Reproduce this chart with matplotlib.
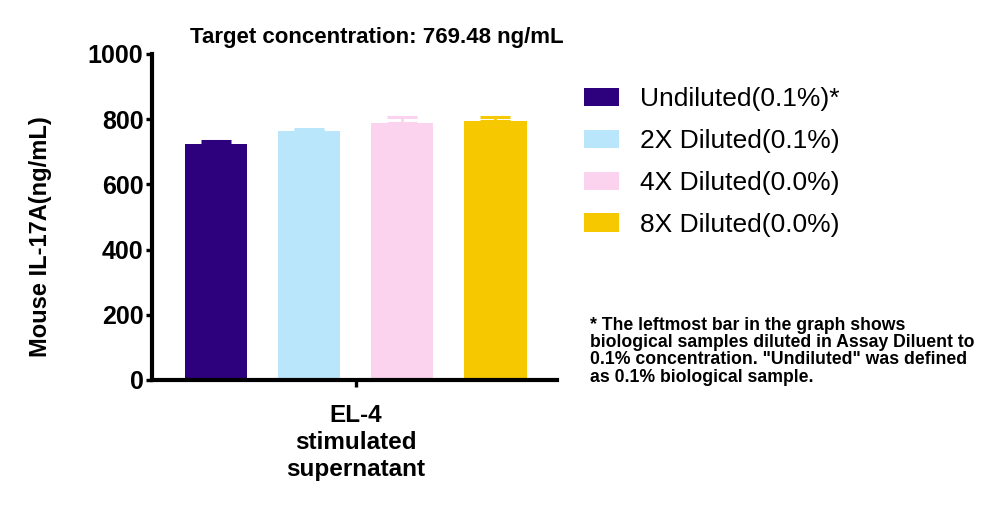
import numpy as np
import matplotlib.pyplot as plt
from matplotlib.patches import Patch

plt.rcParams['font.family'] = ['Liberation Sans', 'DejaVu Sans']

groups = ['Undiluted(0.1%)*', '2X Diluted(0.1%)', '4X Diluted(0.0%)', '8X Diluted(0.0%)']
means = [724, 765, 787, 795]
errs = [9, 6, 19, 13]
colors = ['#2D007D', '#B9E6FA', '#FCD3EE', '#F5C800']
category = 'EL-4\nstimulated\nsupernatant'
yticks = [0, 200, 400, 600, 800, 1000]

fig = plt.figure(figsize=(9.96, 5.07), dpi=100)
ax = fig.add_axes([0.1526, 0.2505, 0.4066, 0.643])

x = np.arange(len(means))
ax.bar(x, means, width=0.667, color=colors, zorder=2)
for xi, m, e, c in zip(x, means, errs, colors):
    ax.errorbar(xi, m, yerr=[[0], [e]], color=c, capsize=11, elinewidth=2, capthick=2.2, zorder=1)

ax.set_xlim(-0.686, 3.66)
ax.set_ylim(0, 1000)
ax.set_yticks(yticks)
ax.set_yticklabels([str(v) for v in yticks], fontsize=18, fontweight='bold')
ax.set_xticks([1.5])
ax.set_xticklabels([category], fontsize=17.5, fontweight='bold', linespacing=1.22)
ax.tick_params(axis='both', width=2.4, length=4, pad=2.2)
ax.tick_params(axis='x', length=5, pad=12)
for s in ['top', 'right']:
    ax.spines[s].set_visible(False)
for s in ['left', 'bottom']:
    ax.spines[s].set_linewidth(3)

ax.set_ylabel('Mouse IL-17A(ng/mL)', fontsize=17, fontweight='bold')
ax.yaxis.set_label_coords(-0.246, 0.439)
fig.text(377 / 996, 1 - 38 / 507, 'Target concentration: 769.48 ng/mL', fontsize=16,
         fontweight='bold', ha='center', va='center')

handles = [Patch(facecolor=c, edgecolor='none') for c in colors]
fig.legend(handles, groups, loc='upper left', bbox_to_anchor=(0.563, 0.875), frameon=False,
           fontsize=19, handlelength=1.3, handleheight=0.7, handletextpad=0.8, labelspacing=0.68)

fig.text(0.592, 0.375, '* The leftmost bar in the graph shows\nbiological samples diluted in Assay Diluent to\n'
         '0.1% concentration. "Undiluted" was defined\nas 0.1% biological sample.',
         fontsize=12.7, fontweight='bold', va='top', ha='left', linespacing=1.02)

fig.savefig('out.png', dpi=100)
